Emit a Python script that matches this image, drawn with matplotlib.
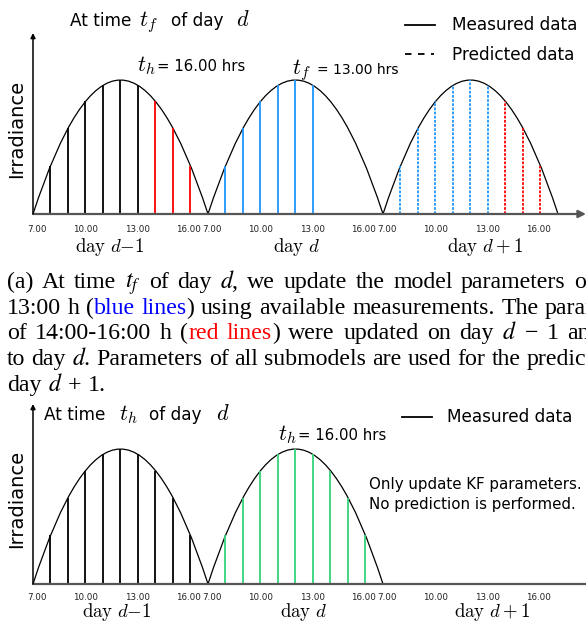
import matplotlib
matplotlib.use("Agg")
import matplotlib.pyplot as plt
from matplotlib.lines import Line2D
from matplotlib.path import Path
from matplotlib.patches import PathPatch, Rectangle

# ---------------------------------------------------------------- data
hours = [7, 8, 9, 10, 11, 12, 13, 14, 15, 16, 17]
irr_prev = [0.0, 0.36, 0.64, 0.84, 0.96, 1.0, 0.96, 0.84, 0.64, 0.36, 0.0]
irr_curr = [0.0, 0.36, 0.64, 0.84, 0.96, 1.0, 0.96, 0.84, 0.64, 0.36, 0.0]
irr_next = [0.0, 0.36, 0.64, 0.84, 0.96, 1.0, 0.96, 0.84, 0.64, 0.36, 0.0]
sample_hours = [8, 9, 10, 11, 12, 13, 14, 15, 16]
tick_hours = [7, 10, 13, 16]
tick_labels = ["7.00", "10.00", "13.00", "16.00"]
t_f = 13   # forecast time on day d
t_h = 16   # last hour of the day

W, H, DPI = 586, 623, 100
PX_PER_HOUR = 17.5
X0 = 33  # pixel position of 7.00 on day d-1

BLUE = "#1e96ff"
RED = "#ff0000"
GREEN = "#33d47a"
AXIS_GRAY = "#555555"

fig = plt.figure(figsize=(W / DPI, H / DPI), dpi=DPI)
renderer = fig.canvas.get_renderer()


def fx(px):
    return px / W


def fy(py):
    return 1 - py / H


def tpos(day, hour):
    return 10 * day + (hour - 7)


def make_panel(y_top, y_bot, base_px, unit_px):
    ax = fig.add_axes([0, 1 - y_bot / H, 1, (y_bot - y_top) / H])
    ax.set_xlim(-X0 / PX_PER_HOUR, (W - X0) / PX_PER_HOUR)
    ax.set_ylim((base_px - y_bot) / unit_px, (base_px - y_top) / unit_px)
    ax.axis("off")
    return ax


def value_at(series, hour):
    return series[hours.index(hour)]


def draw_axes_arrows(ax, y_tip, x_end, head):
    ax.annotate("", xy=(x_end, 0), xytext=(0, 0),
                arrowprops=dict(arrowstyle="-|>" if head else "-", color=AXIS_GRAY,
                                lw=1.6, mutation_scale=11, shrinkA=0, shrinkB=0),
                annotation_clip=False)
    ax.annotate("", xy=(0, y_tip), xytext=(0, 0),
                arrowprops=dict(arrowstyle="-|>", color="black", lw=1.1,
                                mutation_scale=7, shrinkA=0, shrinkB=0),
                annotation_clip=False)


def draw_ticks(ax, dy_px):
    for day in range(3):
        for h, lab in zip(tick_hours, tick_labels):
            dx = 4 if lab == "7.00" else (-2 if lab == "16.00" else 0)
            ax.annotate(lab, xy=(tpos(day, h), 0), xytext=(dx * 0.72, -dy_px * 0.72),
                        textcoords="offset points", ha="center", va="center",
                        fontsize=6.3, color="#222222", annotation_clip=False)


def draw_day_labels(ax, xs_px, dy_px):
    names = [r"$\mathrm{day}\ d{-}1$", r"$\mathrm{day}\ d$", r"$\mathrm{day}\ d+1$"]
    for xp, name in zip(xs_px, names):
        ax.annotate(name, xy=((xp - X0) / PX_PER_HOUR, 0), xytext=(0, -dy_px * 0.72),
                    textcoords="offset points", ha="center", va="center",
                    fontsize=13.5, math_fontfamily="cm", annotation_clip=False)


def draw_curve(ax, day, series, last_hour=None):
    # daily irradiance arc: a quadratic Bezier from sunrise to sunset whose
    # apex reaches the day's peak value
    t0, t1 = tpos(day, hours[0]), tpos(day, hours[-1])
    peak = max(series)
    path = Path([(t0, series[0]), ((t0 + t1) / 2, 2 * peak), (t1, series[-1])],
                [Path.MOVETO, Path.CURVE3, Path.CURVE3])
    patch = PathPatch(path, fill=False, edgecolor="black", lw=0.9, clip_on=False)
    ax.add_patch(patch)
    if last_hour is not None:
        clip = Rectangle((t0 - 1, -1), tpos(day, last_hour) - t0 + 1, 4,
                         transform=ax.transData)
        patch.set_clip_path(clip)


def draw_samples(ax, day, series, hs, color, style="-"):
    ts = [tpos(day, h) for h in hs]
    ys = [value_at(series, h) for h in hs]
    ax.vlines(ts, 0, ys, colors=color, lw=1.3, linestyles=style, clip_on=False)


dotted = (0, (1.5, 0.8))

# ---------------------------------------------------------------- top panel
top = make_panel(0, 255, 214, 134)
draw_axes_arrows(top, (214 - 33) / 134, (W - X0) / PX_PER_HOUR, True)

draw_curve(top, 0, irr_prev)
draw_samples(top, 0, irr_prev, [h for h in sample_hours if h <= t_f], "black")
draw_samples(top, 0, irr_prev, [h for h in sample_hours if h > t_f], RED)

draw_curve(top, 1, irr_curr, last_hour=t_f)
draw_samples(top, 1, irr_curr, [h for h in sample_hours if h <= t_f], BLUE)

draw_curve(top, 2, irr_next)
draw_samples(top, 2, irr_next, [h for h in sample_hours if h <= t_f], BLUE, dotted)
draw_samples(top, 2, irr_next, [h for h in sample_hours if h > t_f], RED, dotted)

draw_ticks(top, 16)
draw_day_labels(top, [110, 296, 485], 33)

# ---------------------------------------------------------------- bottom panel
bot = make_panel(390, 623, 584, 135)
draw_axes_arrows(bot, (584 - 404) / 135, (W + 20 - X0) / PX_PER_HOUR, False)

draw_curve(bot, 0, irr_prev)
draw_samples(bot, 0, irr_prev, sample_hours, "black")
draw_curve(bot, 1, irr_curr)
draw_samples(bot, 1, irr_curr, sample_hours, GREEN)

draw_ticks(bot, 14)
draw_day_labels(bot, [117, 303, 492], 28)

# ---------------------------------------------------------------- annotations
SANS = 12.2
MATH = 16


def pieces(items, base_px):
    """Place text pieces (x_px, text, size) on a shared baseline."""
    for x, s, size in items:
        fig.text(fx(x), fy(base_px), s, fontsize=size, va="baseline", ha="left",
                 math_fontfamily="cm")


pieces([(70, "At time", SANS), (139, r"$t_f$", MATH), (171, "of day", SANS),
        (236, r"$d$", MATH)], 26)
pieces([(44, "At time", SANS), (119, r"$t_h$", MATH), (149, "of day", SANS),
        (216, r"$d$", MATH)], 420)

pieces([(137, r"$t_h$", MATH), (157, "= %d.00 hrs" % t_h, 10.7)], 71)
pieces([(292, r"$t_f$", MATH), (317, "= %d.00 hrs" % t_f, 10.0)], 74)
pieces([(278, r"$t_h$", MATH), (298, "= %d.00 hrs" % t_h, 10.7)], 440)

for yc in (129, 499):
    fig.text(fx(17), fy(yc), "Irradiance", rotation=90, fontsize=14,
             va="center", ha="center")

# legends
fig.add_artist(Line2D([fx(405), fx(435)], [fy(25), fy(25)], color="black", lw=1.3,
                      transform=fig.transFigure))
fig.add_artist(Line2D([fx(405), fx(434)], [fy(54), fy(54)], color="black", lw=1.3,
                      linestyle=(0, (3.6, 3.6)), transform=fig.transFigure))
fig.text(fx(452), fy(25), "Measured data", fontsize=SANS, va="center", ha="left")
fig.text(fx(452), fy(55), "Predicted data", fontsize=SANS, va="center", ha="left")

fig.add_artist(Line2D([fx(402), fx(432)], [fy(417), fy(417)], color="black", lw=1.3,
                      transform=fig.transFigure))
fig.text(fx(447), fy(417), "Measured data", fontsize=SANS, va="center", ha="left")

fig.text(fx(369), fy(485), "Only update KF parameters.", fontsize=10.8,
         va="center", ha="left")
fig.text(fx(369), fy(504), "No prediction is performed.", fontsize=10.8,
         va="center", ha="left")

# ---------------------------------------------------------------- caption
# [..] marks blue text, <..> marks red text; lines are justified so that the
# given prefix of each line spans the printed column up to the page edge.
CAP = dict(family="Liberation Serif", fontsize=17.2, math_fontfamily="stix")
caption_lines = [
    r"(a) At time $t_f$ of day $d$, we update the model parameters of 7:00-",
    r"13:00 h ([blue lines]) using available measurements. The parameters of",
    "of 14:00-16:00 h (<red lines>) were updated on day $d$ \u2212 1 and carried over",
    r"to day $d$. Parameters of all submodels are used for the prediction of",
    r"day $d$ + 1.",
]
caption_prefix = [
    r"(a) At time $t_f$ of day $d$, we update the model parameters o",
    r"13:00 h ([blue lines]) using available measurements. The para",
    "of 14:00-16:00 h (<red lines>) were updated on day $d$ \u2212 1 ar",
    r"to day $d$. Parameters of all submodels are used for the predic",
    None,
]


def text_width(s):
    probe = fig.text(0, 0, s, **CAP)
    w = probe.get_window_extent(renderer).width
    probe.remove()
    return w


def split_word(word, color):
    """Split a marked-up word into (text, color) segments."""
    segs, cur = [], ""
    for ch in word:
        if ch in "[<]>":
            if cur:
                segs.append((cur, color))
            cur = ""
            color = {"[": "#0000ff", "<": "#ff0000"}.get(ch, "black")
        else:
            cur += ch
    if cur:
        segs.append((cur, color))
    return segs, color


def words_of(line):
    out, color = [], "black"
    for w in line.split(" "):
        segs, color = split_word(w, color)
        out.append(segs)
    return out


def word_width(segs):
    return sum(text_width(s) for s, _ in segs)


LEFT, RIGHT = 7, W
space = text_width("a a") - text_width("aa")
for i, (line, prefix) in enumerate(zip(caption_lines, caption_prefix)):
    words = words_of(line)
    if prefix is None:
        gap = space
    else:
        pw = words_of(prefix)
        natural = sum(word_width(w) for w in pw)
        gap = max((RIGHT - LEFT - natural) / (len(pw) - 1), 0.6 * space)
    x = LEFT
    base = 288 + 25.7 * i
    for segs in words:
        for s, c in segs:
            fig.text(fx(x), fy(base), s, color=c, va="baseline", ha="left", **CAP)
            x += text_width(s)
        x += gap

fig.savefig("out.png", dpi=DPI)
